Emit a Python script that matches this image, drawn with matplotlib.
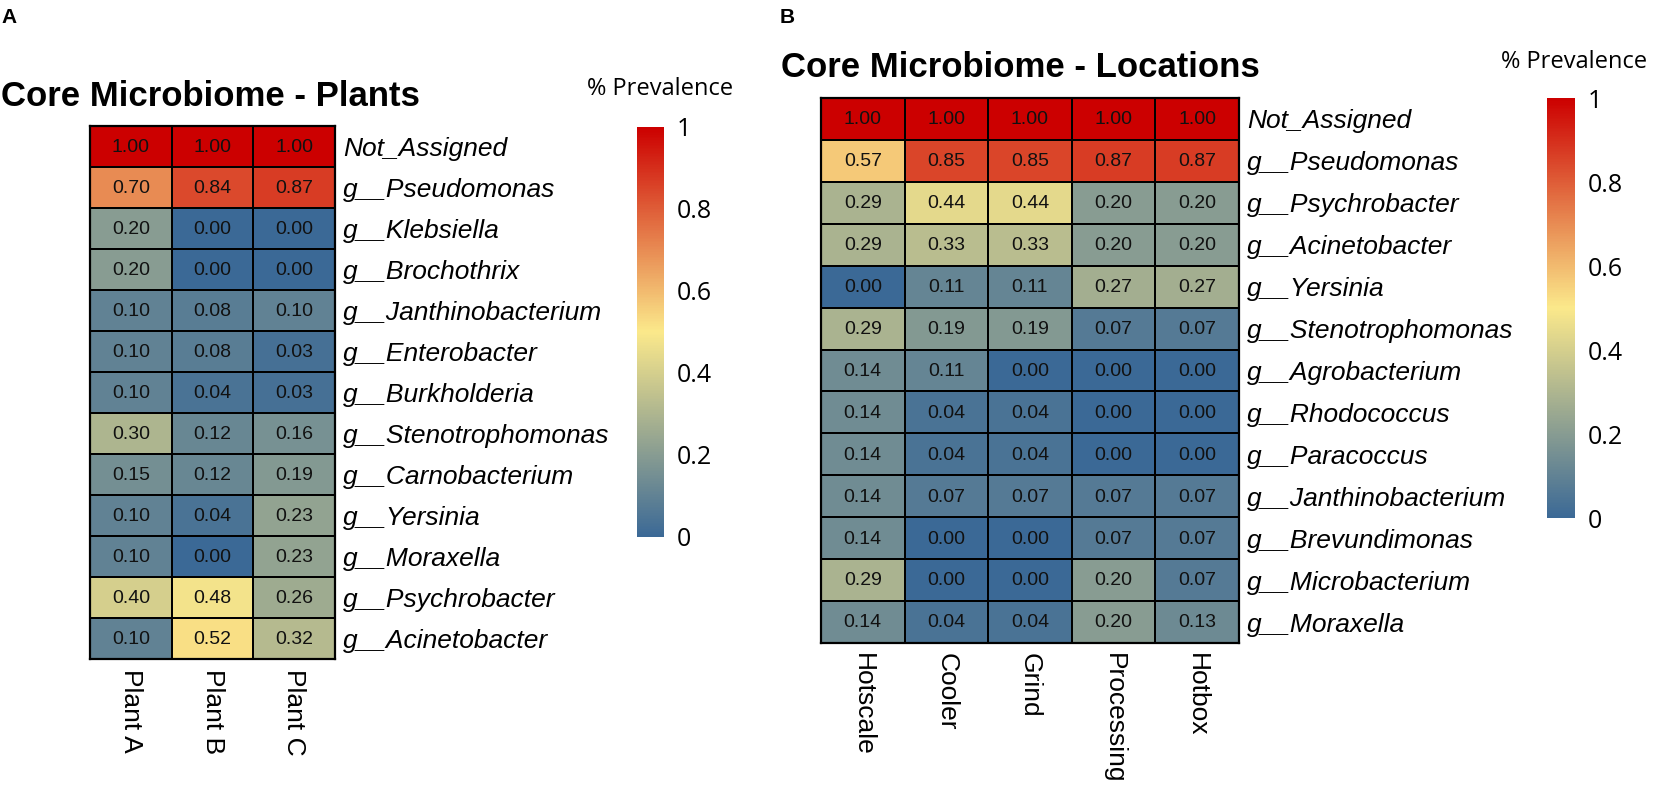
import numpy as np
import matplotlib
matplotlib.use("Agg")
import matplotlib.pyplot as plt
from matplotlib.colors import LinearSegmentedColormap

W, H = 1654, 788

plants = ["Plant A", "Plant B", "Plant C"]
genera_a = ["Not_Assigned", "g__Pseudomonas", "g__Klebsiella", "g__Brochothrix",
            "g__Janthinobacterium", "g__Enterobacter", "g__Burkholderia",
            "g__Stenotrophomonas", "g__Carnobacterium", "g__Yersinia",
            "g__Moraxella", "g__Psychrobacter", "g__Acinetobacter"]
prev_a = [
    [1.00, 1.00, 1.00],
    [0.70, 0.84, 0.87],
    [0.20, 0.00, 0.00],
    [0.20, 0.00, 0.00],
    [0.10, 0.08, 0.10],
    [0.10, 0.08, 0.03],
    [0.10, 0.04, 0.03],
    [0.30, 0.12, 0.16],
    [0.15, 0.12, 0.19],
    [0.10, 0.04, 0.23],
    [0.10, 0.00, 0.23],
    [0.40, 0.48, 0.26],
    [0.10, 0.52, 0.32],
]

locations = ["Hotscale", "Cooler", "Grind", "Processing", "Hotbox"]
genera_b = ["Not_Assigned", "g__Pseudomonas", "g__Psychrobacter", "g__Acinetobacter",
            "g__Yersinia", "g__Stenotrophomonas", "g__Agrobacterium",
            "g__Rhodococcus", "g__Paracoccus", "g__Janthinobacterium",
            "g__Brevundimonas", "g__Microbacterium", "g__Moraxella"]
prev_b = [
    [1.00, 1.00, 1.00, 1.00, 1.00],
    [0.57, 0.85, 0.85, 0.87, 0.87],
    [0.29, 0.44, 0.44, 0.20, 0.20],
    [0.29, 0.33, 0.33, 0.20, 0.20],
    [0.00, 0.11, 0.11, 0.27, 0.27],
    [0.29, 0.19, 0.19, 0.07, 0.07],
    [0.14, 0.11, 0.00, 0.00, 0.00],
    [0.14, 0.04, 0.04, 0.00, 0.00],
    [0.14, 0.04, 0.04, 0.00, 0.00],
    [0.14, 0.07, 0.07, 0.07, 0.07],
    [0.14, 0.00, 0.00, 0.07, 0.07],
    [0.29, 0.00, 0.00, 0.20, 0.07],
    [0.14, 0.04, 0.04, 0.20, 0.13],
]

cbar_ticks = [0, 0.2, 0.4, 0.6, 0.8, 1]
cbar_labels = ["0", "0.2", "0.4", "0.6", "0.8", "1"]

cmap = LinearSegmentedColormap.from_list(
    "prev", [(0, "#3B6996"), (0.5, "#FBE98B"), (1, "#CC0000")])

ARIAL = "Liberation Sans"
SEGOE = "Open Sans"


def rect(x0, y0, x1, y1):
    return [x0 / W, 1 - y1 / H, (x1 - x0) / W, (y1 - y0) / H]


def heat(fig, box, vals, rows, cols):
    ax = fig.add_axes(rect(*box))
    vals = np.array(vals)
    ax.pcolormesh(vals, cmap=cmap, vmin=0, vmax=1, edgecolors="black", linewidth=1.3)
    ax.set_xlim(0, vals.shape[1])
    ax.set_ylim(vals.shape[0], 0)
    for i in range(vals.shape[0]):
        for j in range(vals.shape[1]):
            ax.text(j + 0.5, i + 0.52, "%.2f" % vals[i, j], ha="center", va="center",
                    fontsize=14, family=ARIAL, color="#111111")
    ax.yaxis.tick_right()
    ax.set_yticks(np.arange(len(rows)) + 0.5)
    ax.set_yticklabels(rows, fontsize=19, family=ARIAL, style="italic")
    ax.set_xticks(np.arange(len(cols)) + 0.5)
    ax.set_xticklabels(cols, fontsize=19, family=ARIAL, rotation=-90, va="top")
    ax.tick_params(axis="y", length=0, pad=6)
    ax.tick_params(axis="x", length=0, pad=7)
    for s in ax.spines.values():
        s.set_linewidth(1.6)
    return ax


def cbar(fig, box, title_xy):
    cax = fig.add_axes(rect(*box))
    sm = plt.cm.ScalarMappable(cmap=cmap, norm=plt.Normalize(0, 1))
    cb = fig.colorbar(sm, cax=cax, ticks=cbar_ticks)
    cb.outline.set_visible(False)
    cb.ax.set_yticklabels(cbar_labels, fontsize=18, family=SEGOE)
    cb.ax.tick_params(length=0, pad=9)
    fig.text(title_xy[0] / W, 1 - title_xy[1] / H, "% Prevalence", ha="center",
             va="center", fontsize=17, family=SEGOE)


fig = plt.figure(figsize=(W / 100, H / 100), dpi=100)

# panel A
fig.text(1 / W, 1 - 8 / H, "A", fontsize=15, weight="bold", family=ARIAL, va="top")
fig.text(1 / W, 1 - 106 / H, "Core Microbiome - Plants", fontsize=25, weight="bold",
         family=ARIAL, va="baseline")
heat(fig, (90, 126, 335, 659), prev_a, genera_a, plants)
cbar(fig, (637, 127, 664, 537), (660, 89))

# panel B
fig.text(780 / W, 1 - 8 / H, "B", fontsize=15, weight="bold", family=ARIAL, va="top")
fig.text(781 / W, 1 - 77 / H, "Core Microbiome - Locations", fontsize=25, weight="bold",
         family=ARIAL, va="baseline")
heat(fig, (821, 98, 1239, 643), prev_b, genera_b, locations)
cbar(fig, (1547, 98, 1575, 518), (1574, 62))

fig.savefig("out.png", dpi=100)
